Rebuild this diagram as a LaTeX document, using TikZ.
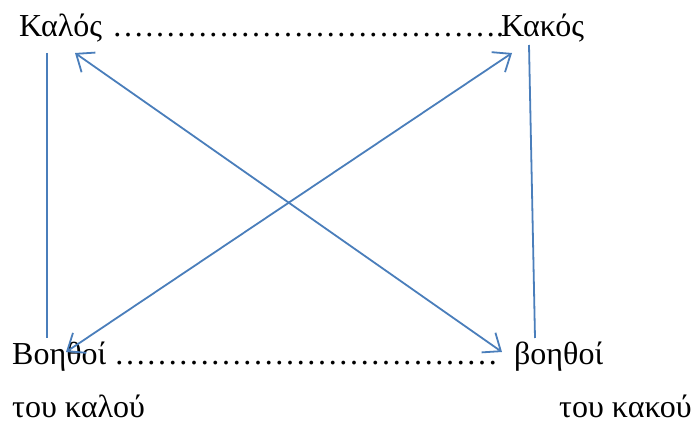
\documentclass[tikz,border=0pt]{standalone}
\usepackage{fontspec}
\setmainfont{Liberation Serif}
\usetikzlibrary{arrows.meta}
\definecolor{lineblue}{HTML}{4A7EBB}
\newcommand{\dotrow}[1]{\foreach \i in {1,...,#1}{…}}
\begin{document}
\begin{tikzpicture}[x=1pt,y=-1pt,
  word/.style={anchor=base west,inner sep=0pt,font=\fontsize{32}{38}\selectfont},
  conn/.style={draw=lineblue,line width=1.8pt},
  dbl/.style={conn,{Straight Barb[length=15pt,width=24pt]}-{Straight Barb[length=15pt,width=24pt]}}]
\useasboundingbox (0,0) rectangle (697,427);
\node[word] (kalos) at (19,36.5) {Καλός};
\node[word] (dtop) at (112,36.5) {\dotrow{12}.};
\node[word] (kakos) at (501,36.5) {Κακός};
\node[word] (voithoi) at (12,365) {Βοηθοί};
\node[word] (dbot) at (114,365) {\dotrow{12}};
\node[word] (voithoi2) at (514,365) {βοηθοί};
\node[word] (toukalou) at (12,417.5) {του καλού};
\node[word] (toukakou) at (559,417.5) {του κακού};
\coordinate (lt) at (47,53);
\coordinate (lb) at (47,338);
\coordinate (rt) at (529,45);
\coordinate (rb) at (535,338);
\coordinate (a1) at (75,53);
\coordinate (a2) at (502,352);
\coordinate (b1) at (512,53);
\coordinate (b2) at (66,352);
\draw[conn] (lt) -- (lb);
\draw[conn] (rt) -- (rb);
\draw[dbl] (a1) -- (a2);
\draw[dbl] (b1) -- (b2);
\end{tikzpicture}
\end{document}
